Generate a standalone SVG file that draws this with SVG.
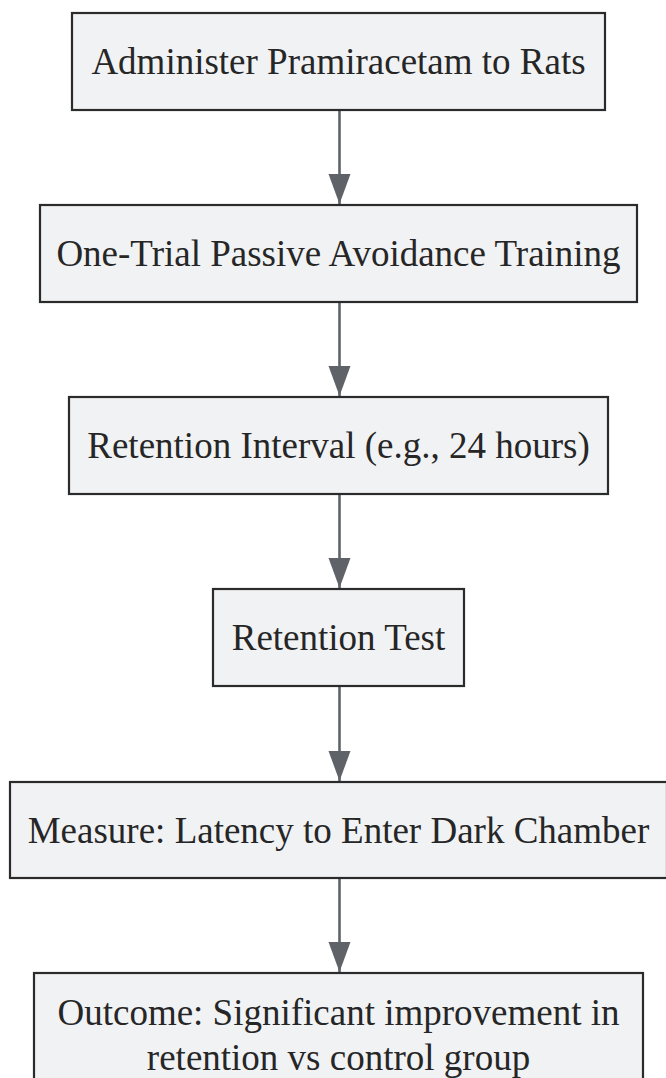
<svg xmlns="http://www.w3.org/2000/svg" width="666" height="1078" viewBox="0 0 666 1078">
<defs>
<style>
.box{fill:#f1f2f4;stroke:#2b2b2b;stroke-width:2.2}
.lbl{font-family:'Liberation Serif',Tinos,'Times New Roman',Times,'Noto Serif','DejaVu Serif',serif;font-size:37px;fill:#262626;text-anchor:middle}
.edge{stroke:#5f6368;stroke-width:2.6;fill:none}
</style>
<marker id="arr" markerUnits="userSpaceOnUse" markerWidth="32" markerHeight="24" refX="30" refY="11" orient="auto">
<path d="M0,0 L30,11 L0,22 Z" fill="#5f6368"/>
</marker>
</defs>
<rect width="666" height="1078" fill="#ffffff"/>
<g id="connectors">
<path class="edge" d="M339.5,110 V204" marker-end="url(#arr)"/>
<path class="edge" d="M339.5,302 V396" marker-end="url(#arr)"/>
<path class="edge" d="M339.5,494 V588" marker-end="url(#arr)"/>
<path class="edge" d="M339.5,686 V781" marker-end="url(#arr)"/>
<path class="edge" d="M339.5,878 V972" marker-end="url(#arr)"/>
</g>
<g id="n1"><rect class="box" x="72" y="13" width="533" height="97"/><text class="lbl" x="338.5" y="74">Administer Pramiracetam to Rats</text></g>
<g id="n2"><rect class="box" x="40" y="205" width="597" height="97"/><text class="lbl" x="338.5" y="266">One-Trial Passive Avoidance Training</text></g>
<g id="n3"><rect class="box" x="69" y="397" width="539" height="97"/><text class="lbl" x="338.5" y="458">Retention Interval (e.g., 24 hours)</text></g>
<g id="n4"><rect class="box" x="213" y="589" width="251" height="97"/><text class="lbl" x="338.5" y="650">Retention Test</text></g>
<g id="n5"><rect class="box" x="10" y="782" width="657" height="96"/><text class="lbl" x="338.5" y="843">Measure: Latency to Enter Dark Chamber</text></g>
<g id="n6"><rect class="box" x="34" y="973" width="609" height="140"/><text class="lbl" x="338.5" y="1025">Outcome: Significant improvement in</text><text class="lbl" x="338.5" y="1070">retention vs control group</text></g>
</svg>
